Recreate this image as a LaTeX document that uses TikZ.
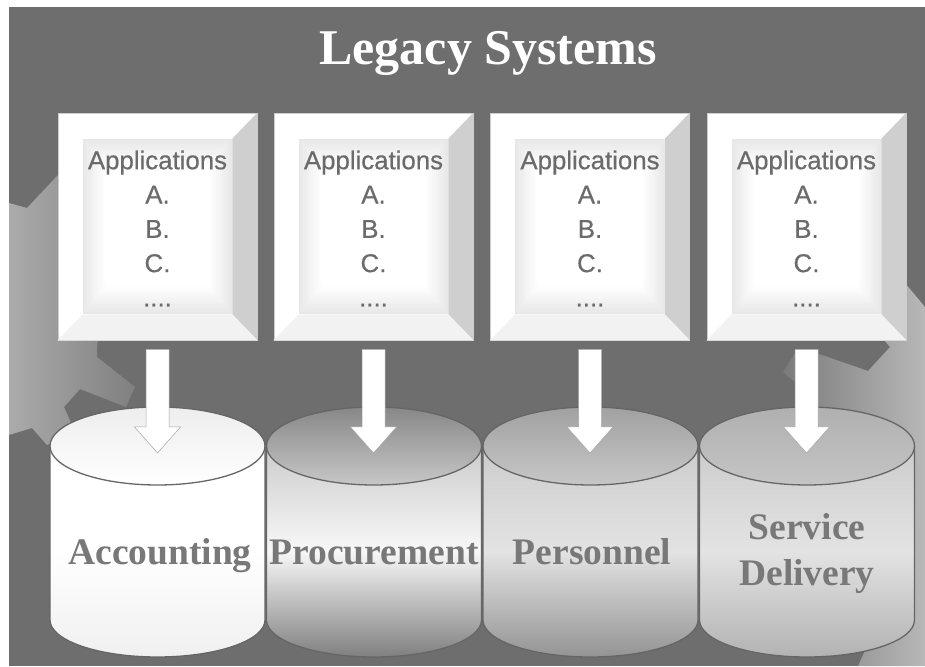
\documentclass[tikz,border=0pt]{standalone}
\usepackage{xcolor}
\usepackage{fontspec}
\setmainfont{Liberation Sans}
\newfontfamily\appfont{Liberation Sans}[FakeBold=0.5]
\newfontfamily\titlefont{Liberation Serif}
\usetikzlibrary{shapes.geometric, calc}
\colorlet{slate}{black!57}
\tikzset{
  appbox/.style={draw=black!20, line width=0.6pt, fill=white, minimum width=199pt, minimum height=227pt, inner sep=0pt},
  apptext/.style={align=center, inner sep=0pt, text=black!58, font=\appfont\fontsize{25.8}{34.3}\selectfont},
  dbtext/.style={align=center, inner sep=0pt, anchor=base, text=black!53, font=\titlefont\bfseries\fontsize{37.5}{46}\selectfont},
  dbtop/.style={ellipse, draw=black!60, line width=1.3pt, minimum width=215pt, minimum height=78pt, inner sep=0pt},
  dbline/.style={draw=black!60, line width=1.3pt},
  blockarrow/.style={draw=black!35, line width=0.5pt, fill=white},
  top1/.style={top color=black!7, bottom color=white},
  top2/.style={top color=black!47, bottom color=black!22},
  top3/.style={top color=black!37, bottom color=black!22},
  top4/.style={top color=black!31, bottom color=black!23},
  body1/.style={top color=white, bottom color=black!6, middle color=white},
  body2/.style={top color=black!20, bottom color=black!50, middle color=black!3},
  body3/.style={top color=black!20, bottom color=black!42, middle color=black!11},
  body4/.style={top color=black!20, bottom color=black!30, middle color=black!11}
}

\begin{document}
\begin{tikzpicture}[x=1pt,y=1pt]
\useasboundingbox (0,0) rectangle (925,666);
\fill[white] (0,0) rectangle (925,666);
\fill[slate] (9,0) rectangle (925,659);

% gears behind everything
\shade[left color=black!33, right color=black!50] (9,463) -- (27,458) -- (58,491) -- (110,491) -- (97,316) -- (97,309) -- (135,279) -- (126,259) -- (80,277) -- (64,259) -- (72,241) -- (60,226) -- (47,221) -- (32,238) -- (9,231) -- cycle;
\shade[left color=black!52, right color=black!28] (905,383) -- (925,359) -- (925,0) -- (858,0) -- (870,26) -- (795,284) -- (783,294) -- (797,316) -- (822,311) -- (868,295) -- (890,319) -- (884,326) -- (906,326) -- cycle;

\node[text=white, font=\titlefont\bfseries\fontsize{50}{50}\selectfont, anchor=base, inner sep=0pt] (title) at (488,601) {Legacy Systems};

% application boxes
\foreach \i/\cx in {1/157.5, 2/373.5, 3/590, 4/806.5} {
  \node[appbox] (app\i) at (\cx,439.5) {};
  \fill[black!19] (app\i.north east) -- ++(-25,-26) -- ($(app\i.south east)+(-25,26)$) -- (app\i.south east) -- cycle;
  \fill[black!5] (app\i.south west) -- ++(25,26) -- ($(app\i.south east)+(-25,26)$) -- (app\i.south east) -- cycle;
  \foreach \s in {0,...,11} {
    \pgfmathsetmacro{\q}{9*(1-\s/11)}
    \fill[black!\q] ($(app\i.south west)+(25+2*\s,26+2.5*\s)$) rectangle ($(app\i.north east)+(-25-2*\s,-26-2.5*\s)$);
  }
  \node[apptext] (apptext\i) at ($(app\i)+(0,-2)$) {Applications\\A.\\B.\\C.\\....};
}

% databases
\foreach \i/\cx/\lx/\ly/\lbl in {1/157.5/160/101/Accounting, 2/374/374/101/Procurement, 3/590.5/592/101/Personnel, 4/807/807/80/{Service\\Delivery}} {
  \shade[body\i] (\cx-107.5,220) -- (\cx-107.5,46) arc[start angle=180, end angle=360, x radius=107.5pt, y radius=37pt] -- (\cx+107.5,220) -- cycle;
  \draw[dbline] (\cx-107.5,220) -- (\cx-107.5,46) arc[start angle=180, end angle=360, x radius=107.5pt, y radius=37pt] -- (\cx+107.5,220);
  \node[dbtop, top\i] (db\i) at (\cx,220) {};
  \node[dbtext] (dbtext\i) at (\lx,\ly) {\lbl};
}

% arrows from boxes to databases
\foreach \i in {1,...,4} {
  \draw[blockarrow] let \p1=(app\i.south), \p2=(db\i.center) in
    (\x1-11.5pt,\y1-9pt) -- (\x1-11.5pt,\y2+19pt) -- (\x1-23pt,\y2+19pt) -- (\x1,\y2-7pt) -- (\x1+23pt,\y2+19pt) -- (\x1+11.5pt,\y2+19pt) -- (\x1+11.5pt,\y1-9pt) -- cycle;
}
\end{tikzpicture}
\end{document}
